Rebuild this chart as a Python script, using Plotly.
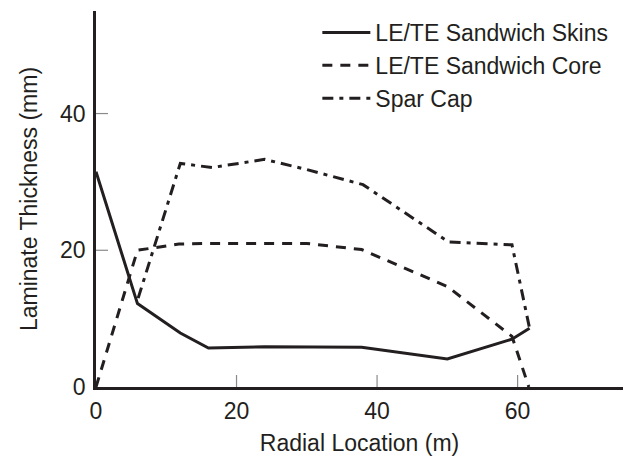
import plotly.graph_objects as go

# Radial stations (m) and laminate thicknesses (mm)
skin_r = [0, 5.9, 12, 16, 24, 30, 37.8, 50, 59.2, 61.7]
skin_t = [31.5, 12.2, 7.9, 5.7, 5.9, 5.9, 5.8, 4.1, 7.0, 8.6]

core_r = [0, 5.9, 11.8, 16, 24, 30, 37.8, 50, 59.2, 61.6]
core_t = [0, 20.0, 20.9, 21, 21, 21, 20.1, 14.7, 7.4, 0]

spar_r = [6.0, 12, 16.5, 24, 30, 38, 50.2, 59.2, 61.7]
spar_t = [13.0, 32.7, 32.1, 33.3, 31.8, 29.6, 21.2, 20.8, 8.6]

x_ticks = [0, 20, 40, 60]
y_ticks = [0, 20, 40]

ink = "#231f20"
tick_grey = "#8a8a8a"
font = dict(family="Liberation Sans, Arial, sans-serif", size=23, color=ink)

fig = go.Figure()
fig.add_trace(go.Scatter(x=skin_r, y=skin_t, mode="lines", name="LE/TE Sandwich Skins",
                         line=dict(color=ink, width=3, dash="solid")))
fig.add_trace(go.Scatter(x=core_r, y=core_t, mode="lines", name="LE/TE Sandwich Core",
                         line=dict(color=ink, width=3, dash="10px,8px")))
fig.add_trace(go.Scatter(x=spar_r, y=spar_t, mode="lines", name="Spar Cap",
                         line=dict(color=ink, width=3, dash="11px,6px,4px,6px")))

# Short grey tick marks pointing into the plot area (12 px long)
for t in x_ticks[1:]:
    fig.add_shape(type="line", xref="x", yref="y", x0=t, x1=t,
                  ysizemode="pixel", yanchor=0, y0=0, y1=12,
                  line=dict(color=tick_grey, width=1.2), layer="below")
for t in y_ticks[1:]:
    fig.add_shape(type="line", xref="x", yref="y", y0=t, y1=t,
                  xsizemode="pixel", xanchor=0, x0=0, x1=12,
                  line=dict(color=tick_grey, width=1.2), layer="below")

axis_common = dict(
    showgrid=False, zeroline=False, showline=True, linecolor=ink, linewidth=2.5,
    ticks="", tickfont=font, title_font=font, automargin=False,
)

fig.update_layout(
    width=630, height=456,
    margin=dict(l=96, r=7, t=11, b=69),
    paper_bgcolor="white", plot_bgcolor="white",
    font=font,
    xaxis=dict(range=[0, 75], tickvals=x_ticks, ticklabelstandoff=2,
               title=dict(text="Radial Location (m)", standoff=20), **axis_common),
    yaxis=dict(range=[0, 55], tickvals=y_ticks, ticklabelstandoff=3,
               title=dict(text="Laminate Thickness (mm)", standoff=17), **axis_common),
    legend=dict(x=0.42, y=1.0, xanchor="left", yanchor="top", bgcolor="rgba(0,0,0,0)",
                font=font, itemwidth=48, tracegroupgap=0),
    showlegend=True,
)

fig.write_html("out.html")
